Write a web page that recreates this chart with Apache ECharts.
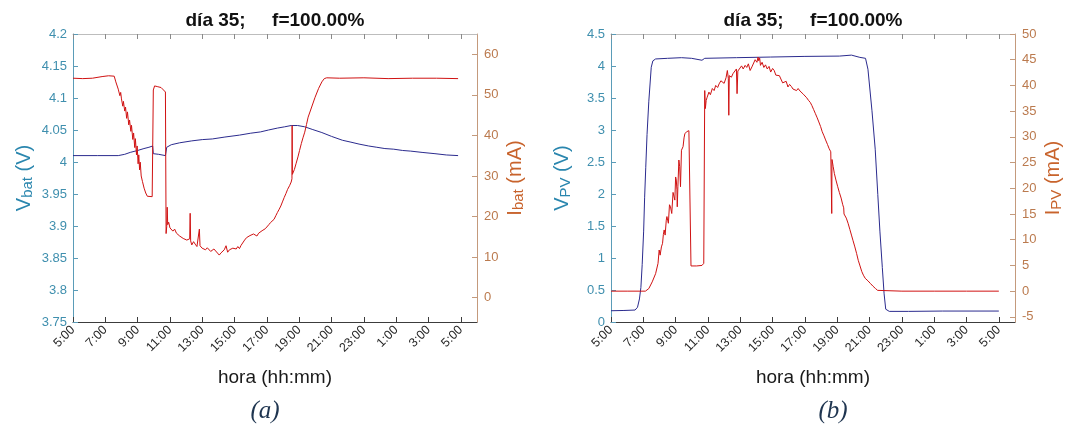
<!DOCTYPE html>
<html><head><meta charset="utf-8">
<script src="https://cdn.jsdelivr.net/npm/echarts@6/dist/echarts.min.js"></script>
<style>html,body{margin:0;padding:0;background:#fff}#c{width:1069px;height:438px}</style>
</head><body><div id="c"></div>
<script>
// ---- tick labels / positions (hours after 5:00) ----
const hourTickLabels = ['5:00','7:00','9:00','11:00','13:00','15:00','17:00','19:00','21:00','23:00','1:00','3:00','5:00'];
const hourTickPos = [0,2,4,6,8,10,12,14,16,18,20,22,24];
const vbatTicks = [3.75,3.8,3.85,3.9,3.95,4,4.05,4.1,4.15,4.2];
const ibatTicks = [0,10,20,30,40,50,60];
const vpvTicks = [0,0.5,1,1.5,2,2.5,3,3.5,4,4.5];
const ipvTicks = [-5,0,5,10,15,20,25,30,35,40,45,50];

// ---- (a) battery voltage ----
const batVTime = [0,1.5,2.8,3.2,3.54,4.0,4.39,4.7,4.93,4.97,5.3,5.72,5.8,6.08,6.6,7.35,8.0,8.62,9.4,10.3,11.0,11.6,12.1,12.65,13.1,13.5,13.9,14.34,14.8,15.4,16.0,16.67,17.2,17.7,18.3,18.8,19.3,19.85,20.4,20.9,21.6,22.4,23.1,23.83];
const batV = [4.010,4.010,4.010,4.012,4.015,4.018,4.021,4.023,4.025,4.013,4.012,4.010,4.023,4.027,4.030,4.033,4.035,4.036,4.039,4.042,4.045,4.047,4.050,4.053,4.055,4.057,4.057,4.055,4.051,4.046,4.040,4.034,4.031,4.028,4.025,4.023,4.021,4.020,4.018,4.017,4.015,4.013,4.011,4.010];

// ---- (a) battery current ----
const batITime = [0,0.6,1.2,1.8,2.2,2.55,2.65,2.8,2.9,2.95,3.0,3.08,3.12,3.2,3.25,3.32,3.37,3.45,3.5,3.58,3.62,3.7,3.75,3.82,3.86,3.93,3.97,4.03,4.07,4.12,4.16,4.22,4.3,4.4,4.5,4.6,4.9,4.97,5.05,5.25,5.45,5.6,5.72,5.76,5.8,5.83,5.86,5.92,6.0,6.08,6.18,6.29,6.4,6.5,6.6,6.72,6.82,6.93,7.04,7.14,7.22,7.25,7.28,7.35,7.46,7.56,7.67,7.78,7.82,7.86,7.99,8.1,8.2,8.31,8.41,8.52,8.62,8.72,8.83,8.94,9.05,9.15,9.26,9.36,9.47,9.57,9.68,9.78,9.89,10.0,10.1,10.2,10.3,10.4,10.5,10.62,10.74,10.85,10.95,11.06,11.17,11.28,11.38,11.49,11.59,11.7,11.8,11.9,12.01,12.12,12.22,12.33,12.44,12.55,12.65,12.76,12.86,12.96,13.07,13.18,13.28,13.4,13.5,13.55,13.56,13.575,13.7,13.8,13.92,14.02,14.13,14.23,14.34,14.45,14.55,14.77,14.98,15.2,15.4,15.55,15.7,16.5,18,19.5,21,22.5,23.83];
const batI = [54.1,54.0,54.1,54.5,54.7,54.6,53.2,51.4,49.8,50.6,49.0,47.2,48.4,46.0,47.0,44.2,45.8,42.6,43.8,41.0,42.5,39.0,40.6,37.0,39.2,35.2,37.4,33.0,35.2,31.5,33.4,30.0,28.6,27.0,25.8,25.0,24.9,51.2,52.2,52.0,51.8,51.2,50.7,15.8,17.5,22.3,18.0,18.6,17.2,17.6,16.4,16.9,15.9,16.2,15.2,15.6,14.6,15.0,14.2,14.0,14.5,20.8,14.0,13.0,13.8,13.2,12.6,13.0,16.9,12.8,12.2,12.6,11.8,12.3,12.0,11.4,11.2,12.0,12.4,11.0,10.5,11.0,10.6,11.8,12.8,11.2,11.8,11.4,12.2,12.5,12.0,12.6,12.1,12.9,13.3,14.2,14.8,14.6,15.3,15.0,15.7,15.4,15.2,15.9,16.1,16.5,16.9,17.0,17.4,18.0,18.5,18.8,19.3,20.2,21.0,21.8,22.6,23.6,24.7,25.7,26.7,27.6,28.5,29.3,42.4,30.4,31.6,33.0,34.7,36.3,38.0,39.4,40.8,42.7,44.5,47.0,49.4,51.6,53.2,54.0,54.2,54.1,54.2,54.0,54.1,54.1,54.0];

// ---- (b) PV voltage ----
const pvVTime = [0,0.8,1.49,1.64,1.76,1.85,1.93,2.02,2.08,2.15,2.23,2.34,2.49,2.59,2.76,3.5,4.36,4.99,5.1,5.63,5.8,7.76,9.88,12.0,14.13,14.88,15.4,15.75,15.9,16.15,16.35,16.51,16.64,16.79,16.9,17.0,17.22,18.4,20.5,24.0];
const pvV = [0.176,0.18,0.187,0.23,0.36,0.54,0.9,1.42,1.94,2.41,2.93,3.45,3.98,4.08,4.11,4.12,4.13,4.12,4.09,4.09,4.12,4.13,4.14,4.15,4.155,4.17,4.135,4.12,3.95,3.3,2.7,1.99,1.42,0.85,0.44,0.2,0.166,0.166,0.171,0.171];

// ---- (b) PV current ----
const pvITime = [0,1.0,2.13,2.34,2.55,2.76,2.91,2.98,3.04,3.12,3.19,3.24,3.29,3.35,3.42,3.46,3.55,3.62,3.68,3.76,3.84,3.89,3.95,4.0,4.04,4.08,4.1,4.14,4.2,4.25,4.3,4.36,4.46,4.52,4.57,4.68,4.82,4.9,4.95,5.3,5.63,5.74,5.79,5.8,5.84,5.89,5.95,6.06,6.15,6.27,6.38,6.48,6.6,6.69,6.8,6.91,7.0,7.12,7.2,7.26,7.29,7.32,7.45,7.55,7.66,7.76,7.8,7.85,7.97,8.08,8.18,8.3,8.4,8.5,8.61,8.72,8.82,8.92,9.03,9.1,9.14,9.2,9.25,9.35,9.46,9.56,9.67,9.78,9.88,10.0,10.1,10.2,10.3,10.42,10.52,10.62,10.73,10.84,10.95,11.05,11.16,11.26,11.37,11.48,11.58,11.7,11.8,11.9,12.0,12.11,12.22,12.33,12.43,12.54,12.65,12.76,12.86,12.97,13.07,13.18,13.28,13.4,13.5,13.6,13.65,13.66,13.675,13.75,13.82,13.92,14.03,14.13,14.24,14.34,14.4,14.42,14.45,14.5,14.56,14.67,14.78,14.88,14.98,15.09,15.2,15.3,15.41,15.52,15.62,15.73,15.9,16.05,16.2,16.37,16.5,16.58,18,20,22,24.0];
const pvI = [0,0,0,0.5,1.8,3.4,5.4,8.0,7.0,8.6,9.3,11.0,11.9,10.9,13.8,14.5,13.2,16.8,16.4,15.1,19.2,19.0,17.7,22.2,21.6,19.7,16.4,20.3,25.5,24.2,20.3,27.4,28.1,29.8,30.6,31.0,31.2,31.0,4.9,4.9,5.0,5.4,5.6,39.0,35.5,37.1,37.7,38.7,38.2,39.4,39.0,40.0,39.6,40.3,40.9,41.0,40.4,41.5,42.9,41.4,34.2,41.9,41.6,42.3,42.6,43.2,38.4,42.8,42.9,43.8,43.2,43.9,43.5,44.2,42.9,43.6,43.9,45.0,44.5,45.5,44.8,45.3,43.9,44.5,43.5,44.0,43.2,43.7,42.6,43.3,42.9,42.0,42.3,41.9,41.6,40.5,40.3,40.8,39.7,40.2,39.8,39.3,39.4,39.0,39.4,38.9,38.7,38.3,38.1,37.6,37.1,36.7,36.1,35.3,34.5,33.7,32.9,32.0,31.0,30.2,29.4,28.5,27.7,27.1,26.9,15.1,25.6,24.2,22.9,21.6,20.3,19.2,18.1,16.8,16.2,15.0,15.3,14.8,14.2,13.2,12.0,10.9,9.8,8.6,7.3,6.0,4.9,3.8,3.1,2.5,2.0,1.5,1.0,0.5,0.15,0,0,0,0,0];

// ---- styling ----
const FONT = '"Liberation Sans", Arial, Helvetica, sans-serif';
const V_COL = '#2a86ae', V_TICK = '#3f8fae', V_LINE = '#5a9cb8';
const I_COL = '#c8632c', I_TICK = '#bb7a4e', I_LINE = '#c49a7c';
const BLUE = '#2b2b8e', RED = '#d01212';
const GRIDS = [{left:73, top:34, width:404, height:288}, {left:611, top:34, width:404, height:288}];

const pairs = (t, v) => t.map((x, i) => [x, v[i]]);
const numFmt = v => String(Math.round(v * 100) / 100);

function xAxesFor(g) {
  return [{
    gridIndex: g, type: 'value', min: 0, max: 25, position: 'bottom',
    axisLine: {show: true, onZero: false, lineStyle: {color: '#3c3c3c', width: 1}},
    axisTick: {show: true, inside: true, length: 5, customValues: hourTickPos, lineStyle: {color: '#3c3c3c'}},
    axisLabel: {customValues: hourTickPos, rotate: 45, margin: 6, fontSize: 12.5, color: '#262626', fontFamily: FONT,
      formatter: v => hourTickLabels[Math.round(v / 2)]},
    splitLine: {show: false},
    name: 'hora (hh:mm)', nameLocation: 'middle', nameGap: 46,
    nameTextStyle: {fontSize: 19, color: '#1a1a1a', fontFamily: FONT}
  }, {
    gridIndex: g, type: 'value', min: 0, max: 25, position: 'top',
    axisLine: {show: true, onZero: false, lineStyle: {color: '#bdbdbd', width: 1}},
    axisTick: {show: true, inside: true, length: 5, customValues: hourTickPos, lineStyle: {color: '#8a8a8a'}},
    axisLabel: {show: false}, splitLine: {show: false}
  }];
}
function yAxesFor(g, vmin, vmax, vticks, vname, imin, imax, iticks, iname) {
  return [{
    gridIndex: g, type: 'value', position: 'left', min: vmin, max: vmax,
    axisLine: {show: true, onZero: false, lineStyle: {color: V_LINE}},
    axisTick: {show: true, inside: true, length: 5, customValues: vticks, lineStyle: {color: V_LINE}},
    axisLabel: {customValues: vticks, color: V_TICK, fontSize: 13, margin: 6, fontFamily: FONT, formatter: numFmt},
    splitLine: {show: false},
    name: '{m|V}{s|' + vname + '}{m| (V)}', nameLocation: 'middle', nameRotate: 90, nameGap: 31,
    nameTextStyle: {color: V_COL, rich: {
      m: {fontSize: 20, color: V_COL, fontFamily: FONT, padding: [0, 0, 8, 0]},
      s: {fontSize: 15, color: V_COL, fontFamily: FONT}}}
  }, {
    gridIndex: g, type: 'value', position: 'right', min: imin, max: imax,
    axisLine: {show: true, onZero: false, lineStyle: {color: I_LINE}},
    axisTick: {show: true, inside: true, length: 5, customValues: iticks, lineStyle: {color: I_LINE}},
    axisLabel: {customValues: iticks, color: I_TICK, fontSize: 13, margin: 7, fontFamily: FONT, formatter: numFmt},
    splitLine: {show: false},
    name: '{m|I}{s|' + iname + '}{m| (mA)}', nameLocation: 'middle', nameRotate: 90, nameGap: 28,
    nameTextStyle: {color: I_COL, rich: {
      m: {fontSize: 20, color: I_COL, fontFamily: FONT, padding: [0, 0, 8, 0]},
      s: {fontSize: 15, color: I_COL, fontFamily: FONT}}}
  }];
}
function line(xi, yi, data, color) {
  return {type: 'line', xAxisIndex: xi, yAxisIndex: yi, data: data, showSymbol: false, symbol: 'none',
    sampling: false, lineStyle: {width: 1, color: color}, itemStyle: {color: color}, z: 2};
}
const titleText = 'día 35;     f=100.00%';
function txt(x, y, text, style) {
  return {type: 'text', x: x, y: y, style: Object.assign({text: text, align: 'center', verticalAlign: 'middle'}, style)};
}

const option = {
  animation: false,
  backgroundColor: '#ffffff',
  textStyle: {fontFamily: FONT},
  grid: GRIDS,
  xAxis: [...xAxesFor(0), ...xAxesFor(1)],
  yAxis: [...yAxesFor(0, 3.75, 4.2, vbatTicks, 'bat', -6, 65, ibatTicks, 'bat'),
          ...yAxesFor(1, 0, 4.5, vpvTicks, 'PV', -6, 50, ipvTicks, 'PV')],
  series: [
    line(0, 0, pairs(batVTime, batV), BLUE),
    line(0, 1, pairs(batITime, batI), RED),
    line(2, 2, pairs(pvVTime, pvV), BLUE),
    line(2, 3, pairs(pvITime, pvI), RED)
  ],
  graphic: [
    txt(275, 21, titleText, {fontSize: 19, fontWeight: 'bold', fill: '#111', fontFamily: FONT}),
    txt(813, 21, titleText, {fontSize: 19, fontWeight: 'bold', fill: '#111', fontFamily: FONT}),
    txt(265, 411, '(a)', {fontSize: 25, fontStyle: 'italic', fill: '#1f3550', fontFamily: '"Liberation Serif", "DejaVu Serif", serif'}),
    txt(833, 411, '(b)', {fontSize: 25, fontStyle: 'italic', fill: '#1f3550', fontFamily: '"Liberation Serif", "DejaVu Serif", serif'})
  ]
};
const chart = echarts.init(document.getElementById('c'), null, {renderer: 'canvas'});
chart.setOption(option);
</script></body></html>
